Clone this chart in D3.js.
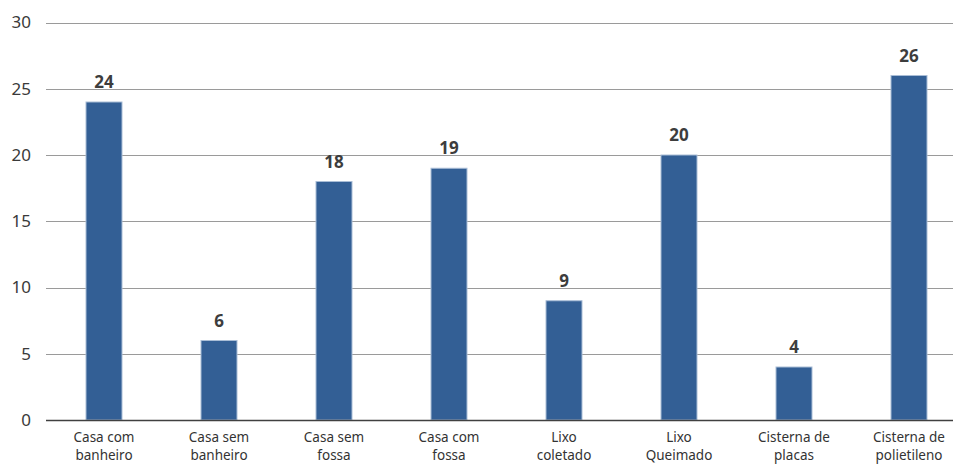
<!DOCTYPE html>
<html><head><meta charset="utf-8">
<script src="https://cdn.jsdelivr.net/npm/d3@7"></script>
<style>body{margin:0;background:#fff}svg{display:block}</style>
</head><body>
<svg id="c" width="953" height="465"></svg>
<script>
const categories = [["Casa com","banheiro"],["Casa sem","banheiro"],["Casa sem","fossa"],["Casa com","fossa"],["Lixo","coletado"],["Lixo","Queimado"],["Cisterna de","placas"],["Cisterna de","polietileno"]];
const values = [24, 6, 18, 19, 9, 20, 4, 26];
const yTicks = [0, 5, 10, 15, 20, 25, 30];

const svg = d3.select("#c");
const font = "'Noto Sans', 'Open Sans', sans-serif";
const x = d3.scaleBand().domain(d3.range(categories.length)).range([46.5, 966.5]).paddingInner(0.687).paddingOuter(0.3435);
const y = d3.scaleLinear().domain([0, 30]).range([420, 22.5]);

// gridlines
svg.append("g").selectAll("line").data(yTicks.filter(d => d > 0)).join("line")
  .attr("x1", 46).attr("x2", 953)
  .attr("y1", d => Math.round(y(d)) + 0.5).attr("y2", d => Math.round(y(d)) + 0.5)
  .attr("stroke", "#9a9a9a").attr("stroke-width", 1);

// y tick labels
svg.append("g").selectAll("text").data(yTicks).join("text")
  .attr("x", 31).attr("y", d => y(d)).attr("dy", "0.35em")
  .attr("text-anchor", "end").attr("font-family", font).attr("font-size", 17)
  .attr("fill", "#3a3a3a").text(d => d);

// bars
svg.append("g").selectAll("rect").data(values).join("rect")
  .attr("x", (d, i) => x(i)).attr("width", x.bandwidth())
  .attr("y", d => y(d)).attr("height", d => y(0) - y(d))
  .attr("fill", "#335f95").attr("stroke", "#a9bdd6").attr("stroke-width", 1);

// baseline
svg.append("line").attr("x1", 46).attr("x2", 953).attr("y1", 420.5).attr("y2", 420.5)
  .attr("stroke", "#404040").attr("stroke-width", 1.6);

// value labels
svg.append("g").selectAll("text").data(values).join("text")
  .attr("x", (d, i) => x(i) + x.bandwidth() / 2).attr("y", d => y(d) - 14)
  .attr("text-anchor", "middle").attr("font-family", font).attr("font-size", 17)
  .attr("font-weight", "bold").attr("fill", "#3d3d3d").text(d => d);

// category labels
const cl = svg.append("g").selectAll("text").data(categories).join("text")
  .attr("x", (d, i) => x(i) + x.bandwidth() / 2).attr("y", 442)
  .attr("text-anchor", "middle").attr("font-family", font).attr("font-size", 13.5)
  .attr("fill", "#333");
cl.selectAll("tspan").data(d => d).join("tspan")
  .attr("x", function() { return d3.select(this.parentNode).attr("x"); })
  .attr("dy", (d, j) => j === 0 ? 0 : 17.5).text(d => d);
</script>
</body></html>
